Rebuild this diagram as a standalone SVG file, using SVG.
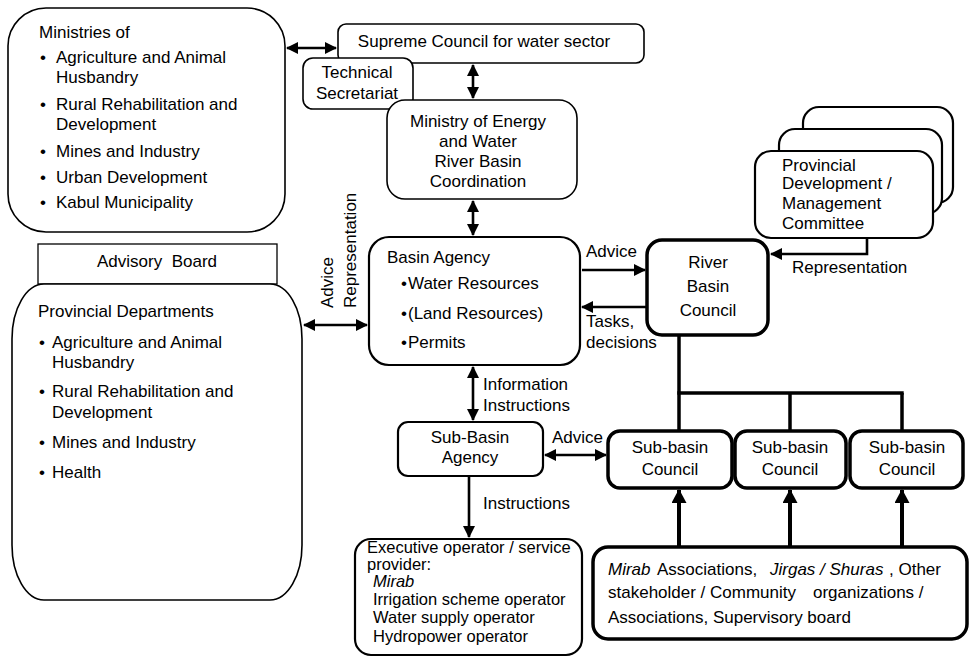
<svg xmlns="http://www.w3.org/2000/svg" width="969" height="657" viewBox="0 0 969 657">
<style>
text{font-family:"Liberation Sans",Arial,sans-serif;font-size:17px;fill:#000}
.c{text-anchor:middle}
.i{font-style:italic}
.s{font-size:16.5px}
.box{fill:#fff;stroke:#000;stroke-width:1.6}
.med{stroke-width:2.2}
.thk{stroke-width:3.5}
.ln{stroke:#000;stroke-width:2.6;fill:none}
.lt{stroke:#000;stroke-width:3.5;fill:none}
.up{stroke:#000;stroke-width:4;fill:none}
</style>
<defs>
<marker id="a" markerUnits="userSpaceOnUse" markerWidth="12" markerHeight="12" refX="11" refY="6" orient="auto-start-reverse"><path d="M0,0 L12,6 L0,12 Z" fill="#000"/></marker>
<marker id="b" markerUnits="userSpaceOnUse" markerWidth="15" markerHeight="15" refX="13" refY="7.5" orient="auto-start-reverse"><path d="M0,0 L14,7.5 L0,15 Z" fill="#000"/></marker>
</defs>

<g id="connectors">
<line class="ln" x1="287" y1="48" x2="336" y2="48" marker-start="url(#a)" marker-end="url(#a)"/>
<line class="ln" x1="473" y1="65" x2="473" y2="98" marker-start="url(#a)" marker-end="url(#a)"/>
<line class="ln" x1="473" y1="201" x2="473" y2="235" marker-start="url(#a)" marker-end="url(#a)"/>
<line class="ln" x1="304" y1="325" x2="367" y2="325" marker-start="url(#a)" marker-end="url(#a)"/>
<line class="ln" x1="582" y1="270" x2="645" y2="270" marker-end="url(#a)"/>
<line class="ln" x1="646" y1="307" x2="582" y2="307" marker-end="url(#a)"/>
<polyline class="ln" points="867,238 867,254 771,254" marker-end="url(#a)"/>
<line class="ln" x1="473" y1="367" x2="473" y2="420" marker-start="url(#a)" marker-end="url(#a)"/>
<line class="ln" x1="545" y1="455" x2="606" y2="455" marker-start="url(#a)" marker-end="url(#a)"/>
<line class="ln" x1="469" y1="477" x2="469" y2="537" marker-end="url(#a)"/>
<polyline class="lt" points="679,336 679,431"/>
<polyline class="lt" points="677.3,393 903.7,393"/>
<polyline class="lt" points="790,393 790,431"/>
<polyline class="lt" points="902,393 902,431"/>
<line class="up" x1="679" y1="546" x2="679" y2="490" marker-end="url(#b)"/>
<line class="up" x1="790" y1="546" x2="790" y2="490" marker-end="url(#b)"/>
<line class="up" x1="902" y1="546" x2="902" y2="490" marker-end="url(#b)"/>
<text x="586" y="257">Advice</text>
<text x="586" y="327">Tasks,</text>
<text x="586" y="348">decisions</text>
<text x="792" y="273">Representation</text>
<text transform="translate(333,308) rotate(-90)">Advice</text>
<text transform="translate(356,308) rotate(-90)">Representation</text>
<text x="483" y="390">Information</text>
<text x="483" y="411">Instructions</text>
<text x="552" y="443">Advice</text>
<text x="483" y="509">Instructions</text>
</g>

<g id="ministries">
<rect class="box" x="8" y="8" width="277" height="224" rx="38" ry="38"/>
<text x="39" y="38">Ministries of</text>
<text x="40" y="63">•</text><text x="56" y="63">Agriculture and Animal</text>
<text x="56" y="83">Husbandry</text>
<text x="40" y="110">•</text><text x="56" y="110">Rural Rehabilitation and</text>
<text x="56" y="130">Development</text>
<text x="40" y="157">•</text><text x="56" y="157">Mines and Industry</text>
<text x="40" y="183">•</text><text x="56" y="183">Urban Development</text>
<text x="40" y="208">•</text><text x="56" y="208">Kabul Municipality</text>
</g>

<g id="supreme-council">
<rect class="box" x="338" y="24" width="306" height="39" rx="8"/>
<text class="c" x="484" y="47">Supreme Council for water sector</text>
</g>

<g id="technical-secretariat">
<rect class="box" x="303" y="58" width="110" height="51" rx="10"/>
<text class="c" x="357" y="78">Technical</text>
<text class="c" x="357" y="99">Secretariat</text>
</g>

<g id="ministry-energy">
<rect class="box" x="387" y="100" width="190" height="99" rx="18"/>
<text class="c" x="478" y="127">Ministry of Energy</text>
<text class="c" x="478" y="147">and Water</text>
<text class="c" x="478" y="167">River Basin</text>
<text class="c" x="478" y="187">Coordination</text>
</g>

<g id="advisory-board">
<rect x="38" y="244" width="239" height="40" fill="#fff" stroke="#000" stroke-width="1.3"/>
<text class="c" x="157" y="267" xml:space="preserve">Advisory  Board</text>
</g>

<g id="provincial-departments">
<path class="box" d="M44,284 H270 A32,55 0 0 1 302,339 V545 A32,55 0 0 1 270,600 H44 A32,55 0 0 1 12,545 V339 A32,55 0 0 1 44,284 Z"/>
<text x="38" y="317">Provincial Departments</text>
<text x="39" y="348">•</text><text x="52" y="348">Agriculture and Animal</text>
<text x="52" y="368">Husbandry</text>
<text x="39" y="397">•</text><text x="52" y="397">Rural Rehabilitation and</text>
<text x="52" y="418">Development</text>
<text x="39" y="448">•</text><text x="52" y="448">Mines and Industry</text>
<text x="39" y="478">•</text><text x="52" y="478">Health</text>
</g>

<g id="basin-agency">
<rect class="box med" x="369" y="237" width="211" height="128" rx="20"/>
<text x="387" y="263">Basin Agency</text>
<text x="401" y="289">•</text><text x="408" y="289">Water Resources</text>
<text x="401" y="319">•</text><text x="408" y="319">(Land Resources)</text>
<text x="401" y="348">•</text><text x="408" y="348">Permits</text>
</g>

<g id="provincial-committee">
<rect class="box med" x="803" y="107" width="150" height="96" rx="16"/>
<rect class="box med" x="779" y="129" width="163" height="85" rx="16"/>
<rect class="box med" x="755" y="151" width="178" height="87" rx="16"/>
<text x="782" y="171">Provincial</text>
<text x="782" y="189">Development /</text>
<text x="782" y="209">Management</text>
<text x="782" y="229">Committee</text>
</g>

<g id="river-basin-council">
<rect class="box thk" x="647" y="240" width="121" height="95" rx="15"/>
<text class="c" x="708" y="268">River</text>
<text class="c" x="708" y="292">Basin</text>
<text class="c" x="708" y="316">Council</text>
</g>

<g id="sub-basin-agency">
<rect class="box med" x="398" y="422" width="145" height="54" rx="10"/>
<text class="c" x="470" y="443">Sub-Basin</text>
<text class="c" x="470" y="463">Agency</text>
</g>

<g id="sub-basin-council-1">
<rect class="box thk" x="608" y="431" width="124" height="57" rx="12"/>
<text class="c" x="670" y="453">Sub-basin</text>
<text class="c" x="670" y="475">Council</text>
</g>
<g id="sub-basin-council-2">
<rect class="box thk" x="735" y="431" width="111" height="57" rx="12"/>
<text class="c" x="790" y="453">Sub-basin</text>
<text class="c" x="790" y="475">Council</text>
</g>
<g id="sub-basin-council-3">
<rect class="box thk" x="850" y="431" width="113" height="57" rx="12"/>
<text class="c" x="907" y="453">Sub-basin</text>
<text class="c" x="907" y="475">Council</text>
</g>

<g id="executive-operator">
<rect class="box med" x="355" y="539" width="227" height="116" rx="16"/>
<text class="s" x="367" y="553">Executive operator / service</text>
<text class="s" x="367" y="570">provider:</text>
<text class="s i" x="373" y="587">Mirab</text>
<text class="s" x="373" y="605">Irrigation scheme operator</text>
<text class="s" x="373" y="623">Water supply operator</text>
<text class="s" x="373" y="642">Hydropower operator</text>
</g>

<g id="stakeholders">
<rect class="box thk" x="593" y="547" width="374" height="92" rx="15"/>
<text y="575"><tspan class="i" x="608">Mirab</tspan><tspan x="657">Associations,</tspan><tspan class="i" x="770">Jirgas / Shuras</tspan><tspan x="889">, Other</tspan></text>
<text y="598"><tspan x="608">stakeholder / Community</tspan><tspan x="813">organizations /</tspan></text>
<text x="608" y="623">Associations, Supervisory board</text>
</g>
</svg>
